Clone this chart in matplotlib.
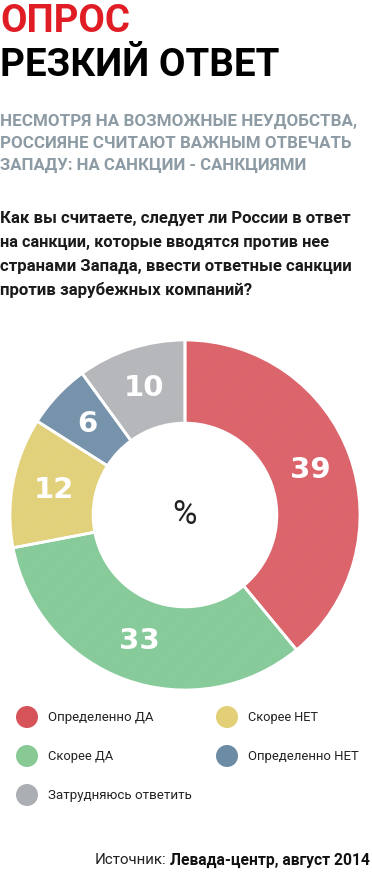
import matplotlib
matplotlib.use('Agg')
import numpy as np
import matplotlib.pyplot as plt
from matplotlib.patches import Circle

# Данные опроса (Левада-центр, август 2014)
categories = ['Определенно ДА', 'Скорее ДА', 'Скорее НЕТ', 'Определенно НЕТ', 'Затрудняюсь ответить']
values = [39, 33, 12, 6, 10]
colors = ['#d6535a', '#89c996', '#e3cf76', '#6c8ca6', '#abaeb2']   # легенда
base = ['#cf434b', '#68ba80', '#d6c054', '#5a7e9b', '#a0a3a7']     # кольцо
stripes = ['#dd676e', '#8acc9c', '#e3d27e', '#7995ad', '#b7b9bc']  # штриховка

title1 = 'ОПРОС'
title2 = 'РЕЗКИЙ ОТВЕТ'
subtitle = ['НЕСМОТРЯ НА ВОЗМОЖНЫЕ НЕУДОБСТВА,',
            'РОССИЯНЕ СЧИТАЮТ ВАЖНЫМ ОТВЕЧАТЬ',
            'ЗАПАДУ: НА САНКЦИИ - САНКЦИЯМИ']
question = ['Как вы считаете, следует ли России в ответ',
            'на санкции, которые вводятся против нее',
            'странами Запада, ввести ответные санкции',
            'против зарубежных компаний?']

FONT = 'Roboto'
W, H = 372, 872
fig = plt.figure(figsize=(W / 100, H / 100), dpi=100)
renderer = fig.canvas.get_renderer()

# фоновая ось в пикселях (0,0 = верхний левый угол)
bg = fig.add_axes([0, 0, 1, 1])
bg.set_xlim(0, W)
bg.set_ylim(H, 0)
bg.axis('off')


def fit(t, target_w, max_size):
    # подгоняем размер шрифта под ширину строки в оригинале
    w = t.get_window_extent(renderer).width
    t.set_fontsize(min(max_size, t.get_fontsize() * target_w / w))
    return t


# --- Заголовки ---
fit(bg.text(0, 22, title1, color='#e01d25', fontsize=30, fontweight='bold',
            family=FONT, va='center', ha='left'), 130, 30)
fit(bg.text(0, 65, title2, color='black', fontsize=30, fontweight='bold',
            family=FONT, va='center', ha='left'), 279, 30)
for i, (s, w) in enumerate(zip(subtitle, [355, 348, 305])):
    fit(bg.text(0, 121 + 22 * i, s, color='#8d9ba4', fontsize=13, fontweight='bold',
                family=FONT, va='center', ha='left'), w, 14)

for i, (s, w) in enumerate(zip(question, [352, 330, 352, 252])):
    fit(bg.text(0, 218 + 24 * i, s, color='#1a1a1a', fontsize=13, fontweight='bold',
                family=FONT, va='center', ha='left'), w, 14)

# --- Кольцевая диаграмма ---
plt.rcParams['hatch.linewidth'] = 1.0
ax = fig.add_axes([10 / W, 1 - 690 / H, 350 / W, 350 / H])
wedges, _ = ax.pie(values, startangle=90, counterclock=False, colors=base,
                   wedgeprops=dict(width=0.475, linewidth=0))
for w, c in zip(wedges, stripes):
    w.set_hatch('/' * 16)
    w.set_edgecolor(c)
    w.set_linewidth(0)
ax.pie(values, startangle=90, counterclock=False,
       wedgeprops=dict(width=0.475, linewidth=2, edgecolor='white', fill=False))
ax.set_xlim(-1, 1)
ax.set_ylim(-1, 1)
ax.set_aspect('equal')
ax.axis('off')

cum = np.cumsum([0] + values)
r_mid = 1 - 0.475 / 2
for i, v in enumerate(values):
    ang = np.deg2rad(90 - 360 * (cum[i] + v / 2) / sum(values))
    ax.text(r_mid * np.cos(ang), r_mid * np.sin(ang), str(v), color='white',
            fontsize=21, fontweight='bold', ha='center', va='center', family='DejaVu Sans')
ax.text(0, 0, '%', fontsize=24, ha='center', va='center', color='#222222', family=FONT)

# --- Легенда ---
pos = [(27, 717), (227, 717), (27, 756), (227, 756), (27, 795)]
order = [0, 2, 1, 3, 4]
widths = [105, 70, 65, 110, 144]
for (x, y), i, tw in zip(pos, order, widths):
    bg.add_patch(Circle((x, y), 11, color=colors[i], lw=0))
    fit(bg.text(x + 21, y, categories[i], fontsize=12, va='center', ha='left',
                family=FONT, color='#222222'), tw, 12)

# --- Источник ---
t = fit(bg.text(370, 860, 'Левада-центр, август 2014', fontsize=12, fontweight='bold',
                family=FONT, ha='right', va='center', color='#111111'), 200, 12)
x0 = t.get_window_extent(renderer).x0
fit(bg.text(x0 - 4, 860, 'Источник:', fontsize=12, family=FONT, ha='right',
            va='center', color='#222222'), 72, 12)

fig.savefig('out.png', dpi=100)
